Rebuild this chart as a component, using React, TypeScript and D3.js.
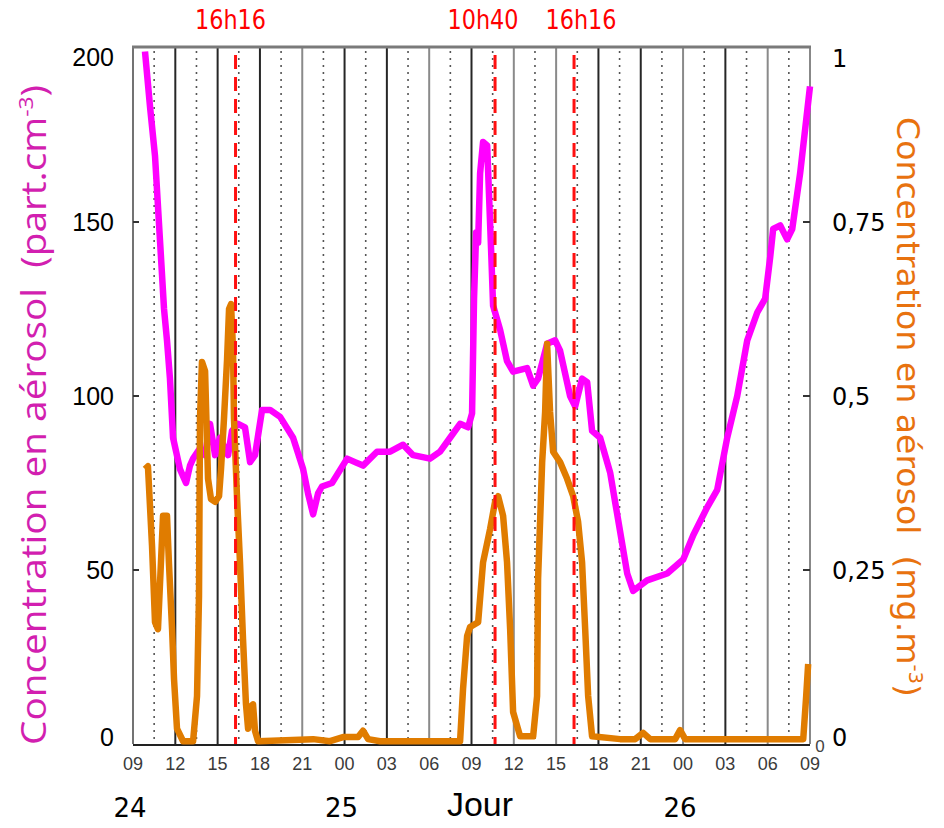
import { useEffect, useRef } from "react";
import * as d3 from "d3";

// hours counted from 09h on the 24th
const magentaHours = [
  0.85, 1.21, 1.56, 1.91, 2.2, 2.41, 2.62, 2.84, 3.33, 3.76, 4.04, 4.26, 4.75, 5.11, 5.46, 5.82,
  6.17, 6.74, 7.02, 7.45, 7.94, 8.3, 8.65, 9.15, 9.72, 10.43, 11.35, 12.06, 12.41, 12.77, 13.12,
  13.4, 14.11, 15.18, 15.74, 16.31, 17.3, 18.23, 19.15, 19.86, 21.06, 21.77, 22.48, 23.19, 23.76,
  24.04, 24.18, 24.33, 24.47, 24.61, 24.82, 25.11, 25.25, 25.39, 25.53, 26.03, 26.52, 26.95,
  27.94, 28.37, 28.72, 29.36, 29.93, 30.28, 30.99, 31.35, 31.84, 32.2, 32.55, 33.12, 33.83,
  34.33, 35.04, 35.46, 36.45, 37.87, 39.01, 39.72, 40.71, 41.42, 42.13, 42.84, 43.55, 44.26,
  44.82, 45.18, 45.39, 45.89, 46.38, 46.74, 47.3, 48.0,
];
const magentaValues = [
  199, 183, 169, 145, 125, 116, 105, 88, 79, 75, 80, 82, 85, 83, 92, 83, 88, 83, 90, 92, 91, 81,
  83, 96, 96, 94, 88, 79, 72, 66, 72, 74, 75, 82, 81, 80, 84, 84, 86, 83, 82, 84, 88, 92, 91, 95,
  128, 147, 144, 164, 173, 172, 157, 142, 126, 119, 110, 107, 108, 103, 105, 115, 116, 113, 100,
  97, 105, 104, 90, 88, 78, 66, 49, 44, 47, 49, 53, 60, 68, 73, 88, 100, 116, 124, 128, 140, 148,
  149, 145, 148, 164, 189,
];

const orangeHours = [
  0.85, 1.06, 1.35, 1.56, 1.77, 2.13, 2.41, 2.55, 2.77, 2.91, 3.12, 3.55, 4.26, 4.54, 4.68, 4.75,
  4.89, 5.11, 5.32, 5.53, 5.82, 6.1, 6.24, 6.45, 6.67, 6.81, 6.95, 7.09, 7.16, 7.38, 7.59, 7.8,
  8.01, 8.16, 8.3, 8.51, 8.65, 8.87, 12.77, 13.97, 14.89, 15.96, 16.31, 16.67, 17.52, 23.19,
  23.4, 23.69, 23.9, 24.47, 24.82, 25.32, 25.67, 25.89, 26.24, 26.52, 26.74, 26.95, 27.45, 28.37,
  28.65, 28.72, 29.01, 29.22, 29.36, 29.57, 29.79, 30.28, 30.78, 31.21, 31.56, 31.84, 32.06,
  32.27, 32.55, 34.54, 35.6, 36.17, 36.67, 38.44, 38.79, 39.15, 47.52, 47.73, 47.87,
];
const orangeValues = [
  0.395, 0.399, 0.284, 0.175, 0.165, 0.328, 0.328, 0.259, 0.165, 0.093, 0.022, 0.004, 0.004,
  0.069, 0.213, 0.467, 0.549, 0.536, 0.381, 0.352, 0.348, 0.356, 0.395, 0.467, 0.553, 0.625,
  0.632, 0.568, 0.467, 0.352, 0.259, 0.151, 0.057, 0.022, 0.053, 0.057, 0.019, 0.004, 0.007,
  0.004, 0.01, 0.01, 0.019, 0.007, 0.004, 0.004, 0.079, 0.155, 0.168, 0.175, 0.261, 0.309, 0.348,
  0.356, 0.328, 0.261, 0.165, 0.046, 0.011, 0.011, 0.069, 0.237, 0.405, 0.477, 0.575, 0.477, 0.42,
  0.405, 0.381, 0.356, 0.319, 0.261, 0.165, 0.069, 0.011, 0.007, 0.007, 0.016, 0.007, 0.007,
  0.02, 0.007, 0.007, 0.069, 0.115,
];

const hourLabels = ["09", "12", "15", "18", "21", "00", "03", "06", "09", "12", "15", "18", "21", "00", "03", "06", "09"];
const dayLabels = ["24", "25", "26"];
const dayHours = [0, 15, 39];

const eventHours = [7.27, 25.67, 31.27];
const eventLabels = ["16h16", "10h40", "16h16"];

const leftTicks = [0, 50, 100, 150, 200];
const rightTicks = [0, 0.25, 0.5, 0.75, 1];
const rightTickLabels = ["0", "0,25", "0,5", "0,75", "1"];

export default function App() {
  const ref = useRef<SVGSVGElement>(null);

  useEffect(() => {
    const svg = d3.select(ref.current);
    svg.selectAll("*").remove();

    const left = 133, right = 810, top = 48, bottom = 744;
    const x = d3.scaleLinear().domain([0, 48]).range([left, right]);
    const yL = d3.scaleLinear().domain([0, 200]).range([bottom, top]);
    const yR = d3.scaleLinear().domain([0, 1]).range([bottom, top]);
    const tickFont = "'Liberation Sans', Arial, sans-serif";

    // vertical grid
    const dim = [4, 7, 9, 10, 13, 15];
    const grid = svg.append("g");
    grid
      .selectAll("line.dot")
      .data(hourLabels.slice(1))
      .join("line")
      .attr("x1", (_, i) => x(i * 3 + 1.5))
      .attr("x2", (_, i) => x(i * 3 + 1.5))
      .attr("y1", top + 3)
      .attr("y2", bottom - 2)
      .attr("stroke", "#555")
      .attr("stroke-width", 1.6)
      .attr("stroke-dasharray", "2,5");
    grid
      .selectAll("line.solid")
      .data(hourLabels.slice(1, -1))
      .join("line")
      .attr("x1", (_, i) => x((i + 1) * 3))
      .attr("x2", (_, i) => x((i + 1) * 3))
      .attr("y1", top)
      .attr("y2", bottom)
      .attr("stroke", (_, i) => (dim.includes(i + 1) ? "#8a8a8a" : "#262626"))
      .attr("stroke-width", 2);

    // frame
    svg.append("line").attr("x1", left).attr("x2", left).attr("y1", top).attr("y2", bottom)
      .attr("stroke", "#444").attr("stroke-width", 1.5);
    svg.append("line").attr("x1", right).attr("x2", right).attr("y1", top).attr("y2", bottom)
      .attr("stroke", "#888").attr("stroke-width", 2);
    svg.append("line").attr("x1", left - 1).attr("x2", right + 1).attr("y1", top - 1).attr("y2", top - 1)
      .attr("stroke", "#7a7a7a").attr("stroke-width", 3);
    svg.append("line").attr("x1", left).attr("x2", right).attr("y1", bottom + 1).attr("y2", bottom + 1)
      .attr("stroke", "#222").attr("stroke-width", 2);

    // inner ticks
    svg.selectAll("line.lt").data(leftTicks.slice(1, -1)).join("line")
      .attr("x1", left).attr("x2", left + 6).attr("y1", (d) => yL(d)).attr("y2", (d) => yL(d))
      .attr("stroke", "#333").attr("stroke-width", 2);
    svg.selectAll("line.rt").data(rightTicks.slice(1, -1)).join("line")
      .attr("x1", right - 7).attr("x2", right).attr("y1", (d) => yR(d)).attr("y2", (d) => yR(d))
      .attr("stroke", "#333").attr("stroke-width", 2);

    // series
    const lineL = d3.line<number>().x((_, i) => x(magentaHours[i])).y((d) => yL(d));
    svg.append("path").attr("d", lineL(magentaValues)).attr("fill", "none")
      .attr("stroke", "#ff00ff").attr("stroke-width", 6.5).attr("stroke-linejoin", "round");

    const lineR = d3.line<number>().x((_, i) => x(orangeHours[i])).y((d) => yR(d));
    svg.append("path").attr("d", lineR(orangeValues)).attr("fill", "none")
      .attr("stroke", "#e07c00").attr("stroke-width", 6.5).attr("stroke-linejoin", "round");

    // event markers
    svg.selectAll("line.ev").data(eventHours).join("line")
      .attr("x1", (d) => x(d)).attr("x2", (d) => x(d)).attr("y1", 55).attr("y2", bottom)
      .attr("stroke", "#ff1010").attr("stroke-width", 3).attr("stroke-dasharray", "14,8");
    const shift = [-5, -12, 7];
    svg.selectAll("text.ev").data(eventLabels).join("text")
      .attr("x", (_, i) => x(eventHours[i]) + shift[i]).attr("y", 29)
      .attr("text-anchor", "middle").attr("font-family", "'DejaVu Sans', sans-serif")
      .attr("font-size", 26).attr("fill", "#ff0000")
      .attr("textLength", 71).attr("lengthAdjust", "spacingAndGlyphs")
      .text((d) => d);

    // left axis labels
    svg.selectAll("text.yl").data(leftTicks).join("text")
      .attr("x", 114).attr("y", (d) => Math.max(57, Math.min(737, yL(d))))
      .attr("dy", "0.36em").attr("text-anchor", "end")
      .attr("font-family", tickFont).attr("font-size", 25).attr("fill", "#000")
      .text((d) => d);

    // right axis labels
    svg.selectAll("text.yr").data(rightTickLabels).join("text")
      .attr("x", 832).attr("y", (_, i) => Math.max(58, Math.min(737, yR(rightTicks[i]))))
      .attr("dy", "0.36em")
      .attr("font-family", "'DejaVu Sans', sans-serif").attr("font-size", 24).attr("fill", "#000")
      .text((d) => d);
    svg.append("text").attr("x", 820).attr("y", 752).attr("text-anchor", "middle")
      .attr("font-family", tickFont).attr("font-size", 17).attr("fill", "#444").text("0");

    // x axis labels
    svg.selectAll("text.xl").data(hourLabels).join("text")
      .attr("x", (_, i) => x(i * 3)).attr("y", 770).attr("text-anchor", "middle")
      .attr("font-family", tickFont).attr("font-size", 18).attr("fill", "#3a3a3a")
      .text((d) => d);
    svg.selectAll("text.day").data(dayLabels).join("text")
      .attr("x", (_, i) => x(dayHours[i]) - 3).attr("y", 817).attr("text-anchor", "middle")
      .attr("font-family", "'DejaVu Sans', sans-serif").attr("font-size", 26).attr("fill", "#000")
      .text((d) => d);
    svg.append("text").attr("x", 480).attr("y", 816).attr("text-anchor", "middle")
      .attr("font-family", "'Liberation Sans', Arial, sans-serif").attr("font-size", 33).attr("fill", "#000")
      .attr("textLength", 66).attr("lengthAdjust", "spacingAndGlyphs").text("Jour");

    // axis titles
    const lt = svg.append("text")
      .attr("transform", "translate(46,415) rotate(-90)")
      .attr("text-anchor", "middle").attr("font-family", "'Open Sans', sans-serif")
      .attr("font-size", 34).attr("fill", "#d21fb0")
      .attr("textLength", 660).attr("lengthAdjust", "spacingAndGlyphs")
      .style("white-space", "pre");
    lt.append("tspan").text("Concentration en aérosol  (part.cm");
    lt.append("tspan").attr("dy", -13).attr("font-size", 20).text("-3");
    lt.append("tspan").attr("dy", 13).text(")");

    const rt = svg.append("text")
      .attr("transform", "translate(897,407) rotate(90)")
      .attr("text-anchor", "middle").attr("font-family", "'DejaVu Sans', sans-serif")
      .attr("font-size", 32).attr("fill", "#e8720f")
      .attr("textLength", 580).attr("lengthAdjust", "spacingAndGlyphs")
      .style("white-space", "pre");
    rt.append("tspan").text("Concentration en aérosol  (mg.m");
    rt.append("tspan").attr("dy", -12).attr("font-size", 19).text("-3");
    rt.append("tspan").attr("dy", 12).text(")");
  }, []);

  return (
    <svg
      ref={ref}
      width={944}
      height={828}
      style={{ position: "absolute", left: 0, top: 0, background: "#fff" }}
    />
  );
}
